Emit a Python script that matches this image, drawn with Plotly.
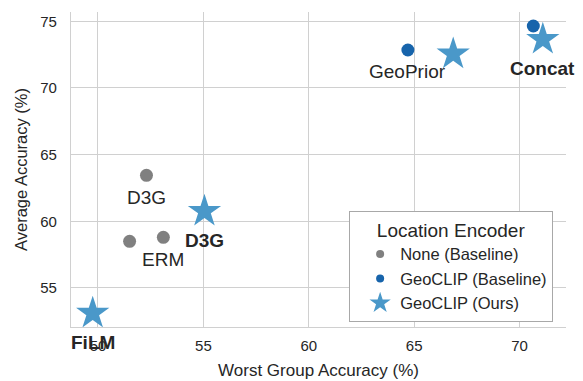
import plotly.graph_objects as go

# data
none_x = [52.3, 51.5, 53.1]
none_y = [63.45, 58.5, 58.8]
none_lbl = ["D3G", "", "ERM"]

base_x = [64.7, 70.65]
base_y = [72.85, 74.65]
base_lbl = ["GeoPrior", ""]

ours_x = [66.85, 71.1, 55.05, 49.75]
ours_y = [72.55, 73.65, 60.75, 53.1]
ours_lbl = ["", "Concat", "D3G", "FiLM"]

C_GRAY = "#808080"
C_DARK = "#1764ab"
C_STAR = "#4a98c9"
C_TEXT = "#262626"
C_GRID = "#d0d0d0"

fig = go.Figure()

series = [
    (none_x, none_y, "None (Baseline)", C_GRAY, "circle", 13, 8),
    (base_x, base_y, "GeoCLIP (Baseline)", C_DARK, "circle", 13, 8),
    (ours_x, ours_y, "GeoCLIP (Ours)", C_STAR, "star", 25, 17),
]
for xs, ys, name, col, sym, size, lsize in series:
    fig.add_trace(go.Scatter(
        x=xs, y=ys, mode="markers", name=name, showlegend=False,
        marker=dict(color=col, size=size, symbol=sym, line_width=0),
    ))
    # legend-only entry with a smaller marker, as in the original
    fig.add_trace(go.Scatter(
        x=[None], y=[None], mode="markers", name=name,
        marker=dict(color=col, size=lsize, symbol=sym, line_width=0),
    ))

# point labels, placed below each point
for xs, ys, lbls, bold in [(none_x, none_y, none_lbl, False),
                           (base_x, base_y, base_lbl, False),
                           (ours_x, ours_y, ours_lbl, True)]:
    for x, y, t in zip(xs, ys, lbls):
        if not t:
            continue
        fig.add_annotation(
            x=x, y=y, text=f"<b>{t}</b>" if bold else t,
            showarrow=False, yshift=-29 if bold else -22,
            font=dict(size=19, color=C_TEXT),
        )

# page body has an 8px margin, so the figure is 8px smaller than the window
fig.update_layout(
    width=575, height=373,
    paper_bgcolor="white", plot_bgcolor="white",
    font=dict(family="Liberation Sans, Arial, sans-serif", color=C_TEXT, size=15),
    margin=dict(l=63, r=17, t=4, b=54),
    legend=dict(
        x=0.974, y=0.368, xanchor="right", yanchor="top",
        bordercolor="#a8a8a8", borderwidth=1, bgcolor="white",
        title=dict(text="Location Encoder", font=dict(size=19), side="top center"),
        font=dict(size=16.5), itemsizing="trace",
        tracegroupgap=0, indentation=10,
    ),
    showlegend=True,
)
fig.update_xaxes(
    range=[48.72, 72.2], tickvals=[50, 55, 60, 65, 70],
    showgrid=True, gridcolor=C_GRID, gridwidth=1,
    showline=True, linecolor=C_GRID, linewidth=1.2,
    zeroline=False, ticks="", tickfont=dict(size=15), automargin=False,
    ticklabelstandoff=5,
    title=dict(text="Worst Group Accuracy (%)", font=dict(size=17), standoff=11),
)
fig.update_yaxes(
    range=[52.07, 75.7], tickvals=[55, 60, 65, 70, 75],
    showgrid=True, gridcolor=C_GRID, gridwidth=1,
    showline=True, linecolor=C_GRID, linewidth=1.2,
    zeroline=False, ticks="", tickfont=dict(size=15), automargin=False,
    ticklabelstandoff=10,
    title=dict(text="Average Accuracy (%)", font=dict(size=16.5), standoff=8),
)

fig.write_html("out.html")
